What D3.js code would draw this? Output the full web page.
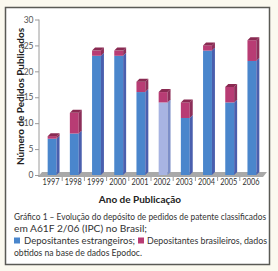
<!DOCTYPE html>
<html>
<head>
<meta charset="utf-8">
<script src="https://cdn.jsdelivr.net/npm/d3@7"></script>
<style>
  body { margin: 0; background: #fbf9ef; }
  svg { display: block; }
</style>
</head>
<body>
<div id="chart"></div>
<script>
// Data
const years = ["1997","1998","1999","2000","2001","2002","2003","2004","2005","2006"];
const foreign = [7, 8, 23, 23, 16, 14, 11, 24, 14, 22];     // Depositantes estrangeiros
const brazilian = [0.5, 4, 1, 1, 2, 2, 3, 1, 3, 4];         // Depositantes brasileiros
const yTicks = [0, 5, 10, 15, 20, 25, 30];

const W = 278, H = 271;
const svg = d3.select("#chart").append("svg")
    .attr("width", W)
    .attr("height", H);

// frame
svg.append("rect")
    .attr("x", 5.5).attr("y", 7.5)
    .attr("width", 264).attr("height", 257)
    .attr("fill", "#ffffff")
    .attr("stroke", "#5a5a55")
    .attr("stroke-width", 1.5);

const x = d3.scaleBand()
    .domain(years)
    .range([41, 263])
    .paddingInner(0.6)
    .paddingOuter(0.3);

const y = d3.scaleLinear().domain([0, 30]).range([175, 19.5]);

const dx = 3, dy = -3; // 3d depth

// floor
const fx0 = 38, fx1 = 263;
svg.append("polygon")
    .attr("points", [[fx0, y(0) + 2], [fx1, y(0) + 2], [fx1 + 4, y(0) - 3], [fx0 + 4, y(0) - 3]].join(" "))
    .attr("fill", "#a9a9a9");

// y axis
svg.append("line")
    .attr("x1", 39).attr("x2", 39)
    .attr("y1", y(30)).attr("y2", y(0) + 2)
    .attr("stroke", "#9a9a9a").attr("stroke-width", 1);

svg.append("g")
    .attr("transform", "translate(39,0)")
    .call(d3.axisLeft(y).tickValues(yTicks).tickSize(4).tickPadding(1.5))
    .call(g => g.select(".domain").remove())
    .call(g => g.selectAll("line").attr("stroke", "#9a9a9a"))
    .call(g => g.selectAll("text")
        .attr("fill", "#555")
        .style("font-family", "Lato, 'Open Sans', sans-serif")
        .style("font-size", "8.5px"));

// bars
const rows = years.map((yr, i) => ({ year: yr, a: foreign[i], b: brazilian[i] }));

function prism(g, x0, w, v0, v1, front, side, top) {
    const yt = y(v1), yb = y(v0);
    g.append("rect")
        .attr("x", x0).attr("y", yt)
        .attr("width", w).attr("height", yb - yt)
        .attr("fill", front);
    g.append("polygon")
        .attr("points", [[x0 + w, yt], [x0 + w + dx, yt + dy], [x0 + w + dx, yb + dy], [x0 + w, yb]].join(" "))
        .attr("fill", side);
    if (top) {
        g.append("polygon")
            .attr("points", [[x0, yt], [x0 + dx, yt + dy], [x0 + w + dx, yt + dy], [x0 + w, yt]].join(" "))
            .attr("fill", top);
    }
}

const bars = svg.append("g");
rows.forEach(d => {
    const g = bars.append("g");
    const bx = x(d.year), bw = x.bandwidth();
    const light = d.year === "2002";
    prism(g, bx, bw, 0, d.a,
        light ? "#a8b4e2" : "#4a86cc",
        light ? "#7d8fc8" : "#4a5fae",
        null);
    prism(g, bx, bw, d.a, d.a + d.b, "#b83c74", "#8c2f5a", "#8a2a52");
});

// x tick labels and separators
const step = x.step();
years.forEach((yr, i) => {
    const cx = x(yr) + x.bandwidth() / 2 - 1;
    svg.append("text")
        .attr("x", cx - 8.5).attr("y", 185)
        .attr("textLength", 17).attr("lengthAdjust", "spacingAndGlyphs")
        .attr("fill", "#333")
        .style("font-family", "Lato, 'Open Sans', sans-serif")
        .style("font-size", "8.5px")
        .text(yr);
    if (i < years.length - 1) {
        svg.append("line")
            .attr("x1", cx + step / 2).attr("x2", cx + step / 2)
            .attr("y1", y(0) + 2).attr("y2", y(0) + 6)
            .attr("stroke", "#9a9a9a");
    }
});

// axis titles
svg.append("text")
    .attr("x", 140).attr("y", 203)
    .attr("text-anchor", "middle")
    .attr("fill", "#222")
    .style("font-family", "Lato, 'Open Sans', sans-serif")
    .style("font-weight", "bold")
    .style("font-size", "10px")
    .text("Ano de Publicação");

svg.append("text")
    .attr("transform", "translate(24,165) rotate(-90)")
    .attr("textLength", 137).attr("lengthAdjust", "spacingAndGlyphs")
    .attr("fill", "#222")
    .style("font-family", "Lato, 'Open Sans', sans-serif")
    .style("font-weight", "bold")
    .style("font-size", "8.5px")
    .text("Número de Pedidos Publicados");

// caption
const cap = svg.append("g")
    .style("font-family", "Lato, 'Open Sans', sans-serif")
    .style("font-size", "9px")
    .attr("fill", "#333");

cap.append("text").attr("x", 14).attr("y", 220)
    .attr("textLength", 252).attr("lengthAdjust", "spacingAndGlyphs")
    .style("font-size", "8.5px")
    .text("Gráfico 1 – Evolução do depósito de pedidos de patente classificados");
cap.append("text").attr("x", 14).attr("y", 232)
    .attr("textLength", 133).attr("lengthAdjust", "spacingAndGlyphs")
    .text("em  A61F 2/06 (IPC)  no  Brasil;");

cap.append("rect").attr("x", 14).attr("y", 237.5).attr("width", 6).attr("height", 6).attr("fill", "#4a86cc");
cap.append("text").attr("x", 24).attr("y", 244)
    .attr("textLength", 111).attr("lengthAdjust", "spacingAndGlyphs")
    .text("Depositantes   estrangeiros;");
cap.append("rect").attr("x", 138).attr("y", 237.5).attr("width", 6).attr("height", 6).attr("fill", "#b83c74");
cap.append("text").attr("x", 147).attr("y", 244)
    .attr("textLength", 120).attr("lengthAdjust", "spacingAndGlyphs")
    .text("Depositantes brasileiros,  dados");
cap.append("text").attr("x", 14).attr("y", 256)
    .attr("textLength", 128).attr("lengthAdjust", "spacingAndGlyphs")
    .text("obtidos na base de dados  Epodoc.");
</script>
</body>
</html>
